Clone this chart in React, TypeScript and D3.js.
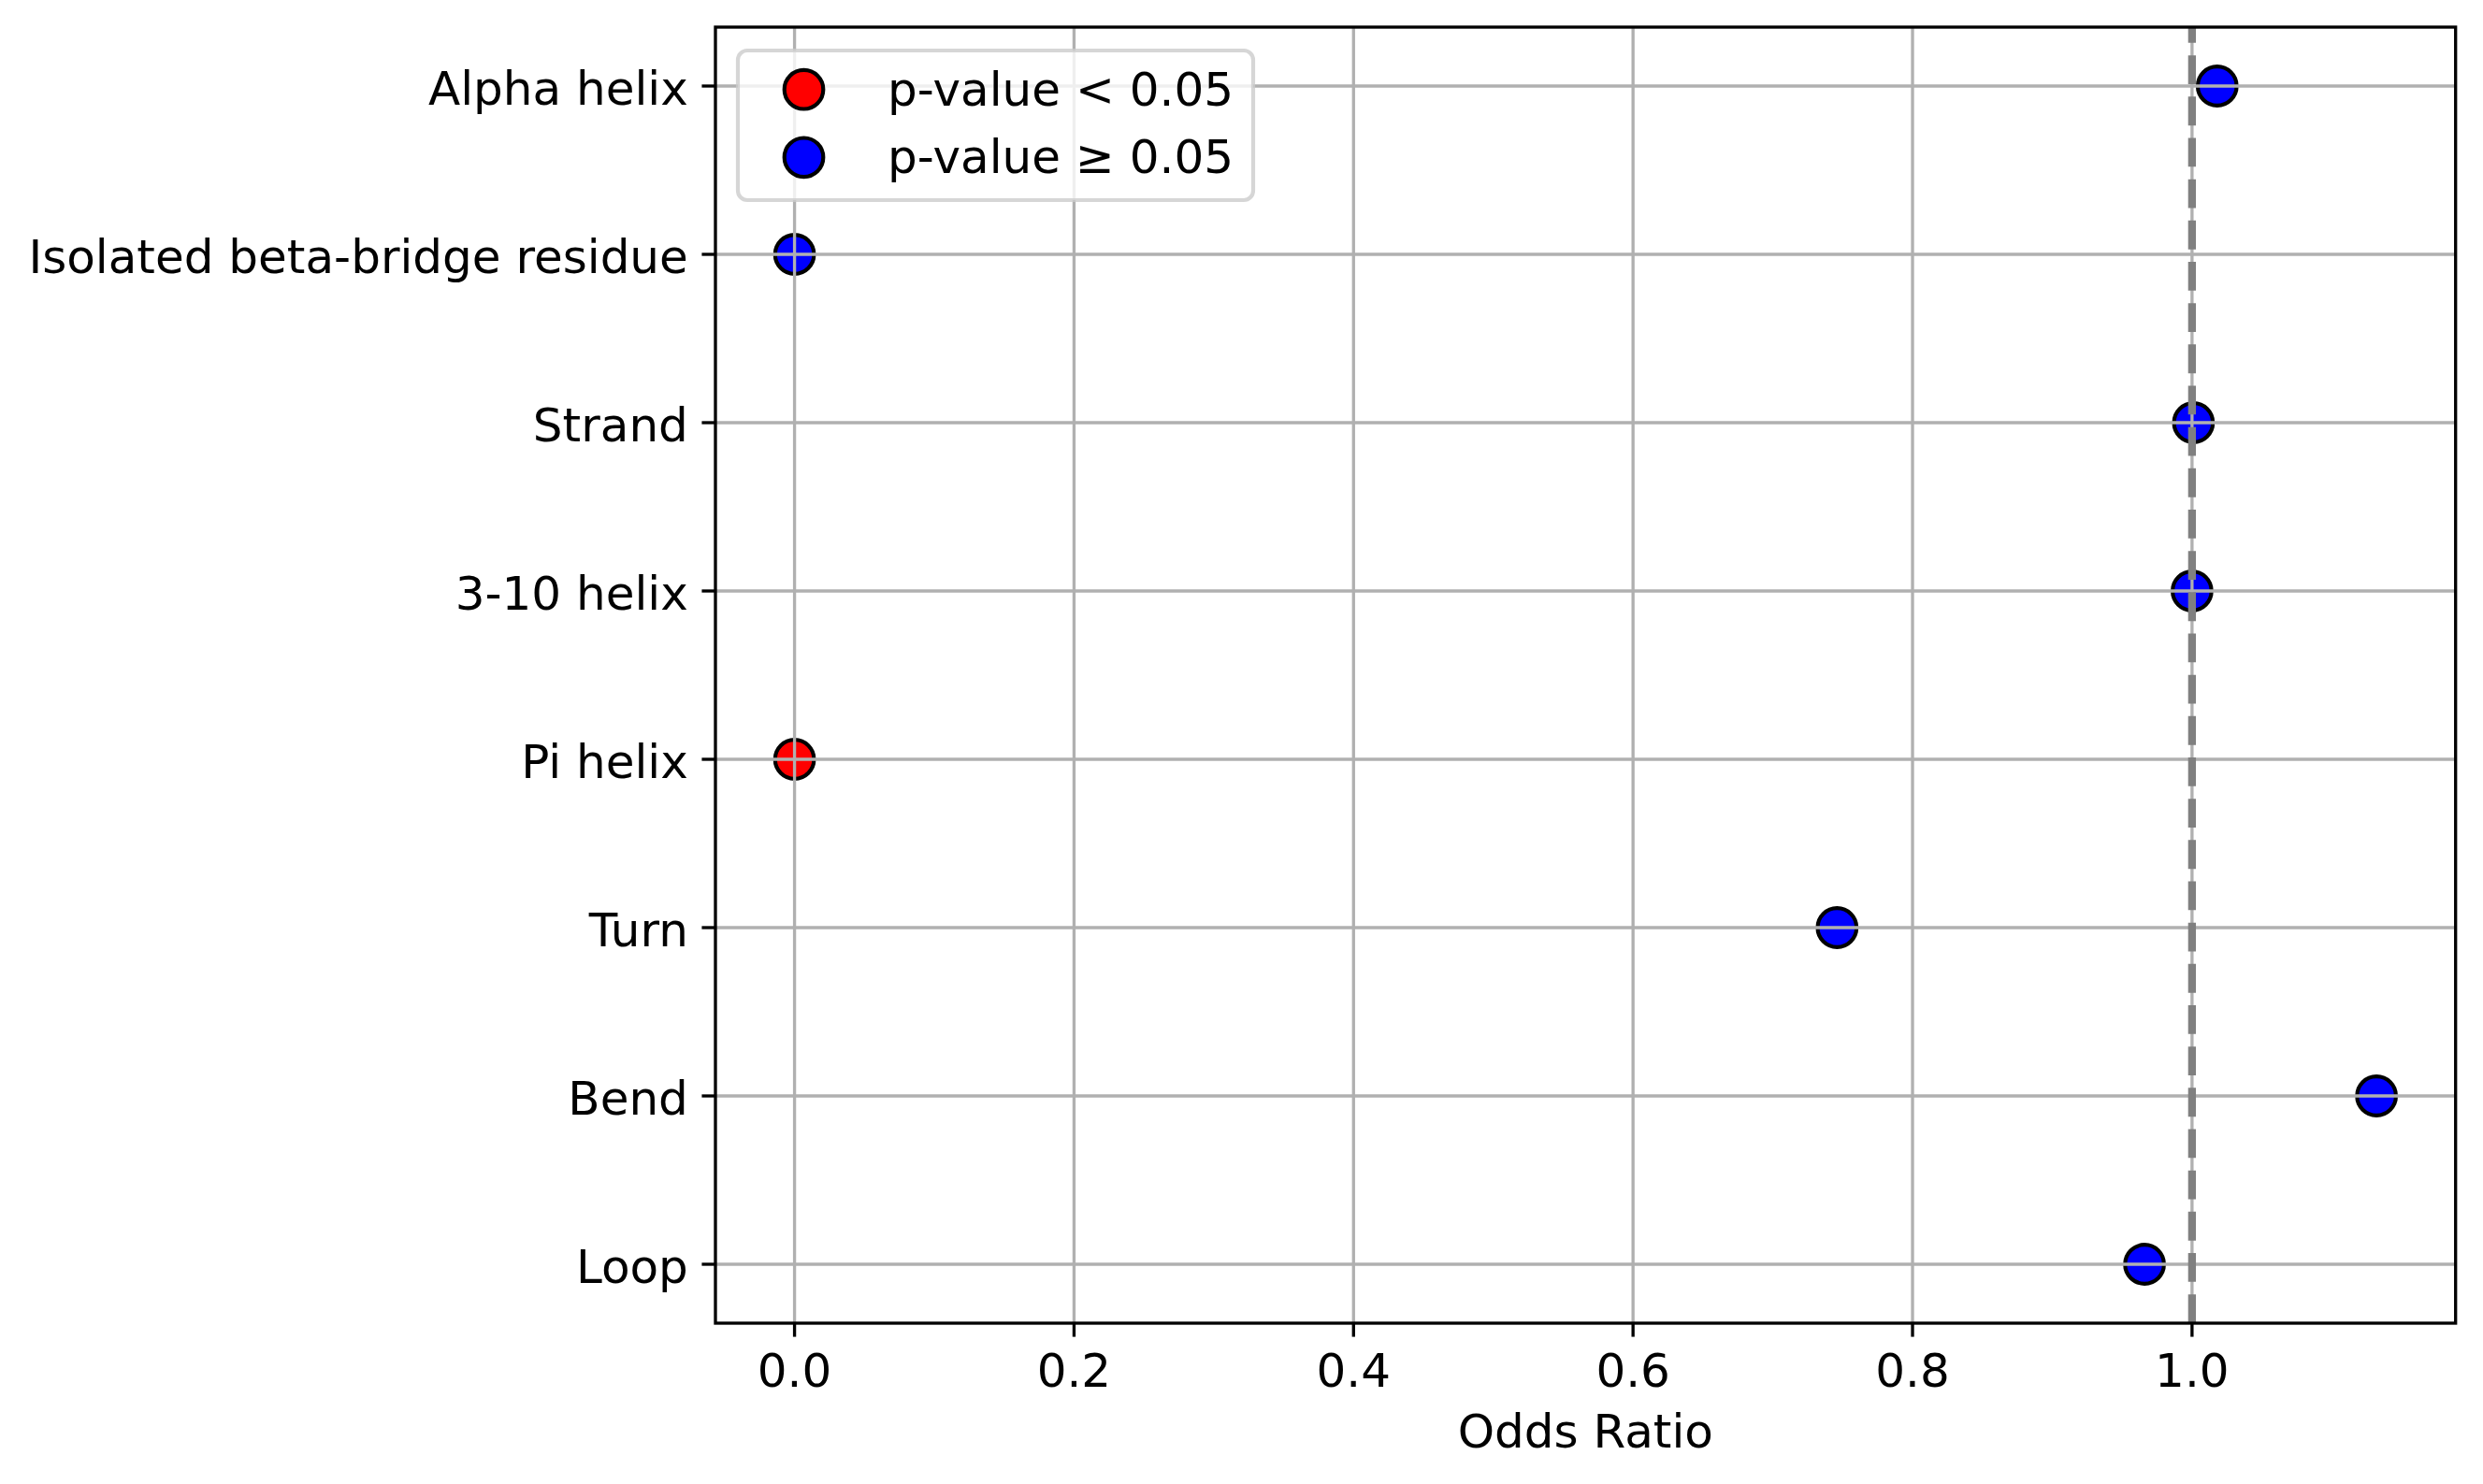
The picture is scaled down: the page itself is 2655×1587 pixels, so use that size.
import { useEffect, useRef } from "react";
import * as d3 from "d3";

// categories from top to bottom, as shown on the y axis
const categories = [
    "Alpha helix",
    "Isolated beta-bridge residue",
    "Strand",
    "3-10 helix",
    "Pi helix",
    "Turn",
    "Bend",
    "Loop",
];
const oddsRatios = [1.018, 0.0, 1.001, 1.0, 0.0, 0.746, 1.132, 0.966];
const significant = [false, false, false, false, true, false, false, false];
const xTicks = [0, 0.2, 0.4, 0.6, 0.8, 1.0];
const legendLabels = ["p-value < 0.05", "p-value \u2265 0.05"];
const legendColors = ["red", "blue"];
const referenceLine = 1.0;

const width = 2655;
const height = 1587;
const margin = { top: 29, right: 29.3, bottom: 172, left: 765 };
const font = "'DejaVu Sans', sans-serif";

const OddsRatioChart = () => {
    const svgRef = useRef<SVGSVGElement>(null);

    useEffect(() => {
        if (!svgRef.current) return;
        const svg = d3.select(svgRef.current);
        svg.selectAll("*").remove();

        const x0 = margin.left;
        const x1 = width - margin.right;
        const y0 = margin.top;
        const y1 = height - margin.bottom;
        const n = categories.length;

        // matplotlib style 5% margins around the data
        const [lo, hi] = d3.extent(oddsRatios) as [number, number];
        const pad = (hi - lo) * 0.05;
        const x = d3.scaleLinear().domain([lo - pad, hi + pad]).range([x0, x1]);
        const y = d3.scaleLinear().domain([-0.35, n - 1 + 0.35]).range([y1, y0]);
        const yPos = (i: number) => y(n - 1 - i);

        const lw = 300 / 72; // 1pt in px

        // points (below the grid, as in matplotlib)
        svg.append("g")
            .selectAll("circle")
            .data(categories)
            .join("circle")
            .attr("cx", (_, i) => x(oddsRatios[i]))
            .attr("cy", (_, i) => yPos(i))
            .attr("r", 20.8)
            .attr("fill", (_, i) => (significant[i] ? legendColors[0] : legendColors[1]))
            .attr("stroke", "black")
            .attr("stroke-width", lw);

        // grid
        const grid = svg.append("g").attr("stroke", "#b0b0b0").attr("stroke-width", 0.8 * lw);
        grid.selectAll("line.v")
            .data(xTicks)
            .join("line")
            .attr("class", "v")
            .attr("x1", d => x(d)).attr("x2", d => x(d))
            .attr("y1", y0).attr("y2", y1);
        grid.selectAll("line.h")
            .data(categories)
            .join("line")
            .attr("class", "h")
            .attr("x1", x0).attr("x2", x1)
            .attr("y1", (_, i) => yPos(i)).attr("y2", (_, i) => yPos(i));

        // reference line at OR = 1 (dash starts at bottom)
        svg.append("line")
            .attr("x1", x(referenceLine)).attr("x2", x(referenceLine))
            .attr("y1", y1).attr("y2", y0)
            .attr("stroke", "#808080")
            .attr("stroke-width", 2 * lw)
            .attr("stroke-dasharray", `${3.7 * 2 * lw} ${1.6 * 2 * lw}`);

        // spines
        svg.append("rect")
            .attr("x", x0).attr("y", y0)
            .attr("width", x1 - x0).attr("height", y1 - y0)
            .attr("fill", "none")
            .attr("stroke", "black")
            .attr("stroke-width", 0.8 * lw);

        const tickLen = 3.5 * lw;

        // x axis ticks + labels
        const xa = svg.append("g");
        xa.selectAll("line")
            .data(xTicks)
            .join("line")
            .attr("x1", d => x(d)).attr("x2", d => x(d))
            .attr("y1", y1).attr("y2", y1 + tickLen)
            .attr("stroke", "black").attr("stroke-width", 0.8 * lw);
        xa.selectAll("text")
            .data(xTicks)
            .join("text")
            .attr("x", d => x(d))
            .attr("y", y1 + 67.7)
            .attr("text-anchor", "middle")
            .attr("font-family", font)
            .attr("font-size", 50)
            .text(d => d3.format(".1f")(d));

        svg.append("text")
            .attr("x", (x0 + x1) / 2)
            .attr("y", 1548)
            .attr("text-anchor", "middle")
            .attr("font-family", font)
            .attr("font-size", 50)
            .text("Odds Ratio");

        // y axis ticks + labels
        const ya = svg.append("g");
        ya.selectAll("line")
            .data(categories)
            .join("line")
            .attr("x1", x0 - tickLen).attr("x2", x0)
            .attr("y1", (_, i) => yPos(i)).attr("y2", (_, i) => yPos(i))
            .attr("stroke", "black").attr("stroke-width", 0.8 * lw);
        ya.selectAll("text")
            .data(categories)
            .join("text")
            .attr("x", x0 - tickLen - 3.5 * lw)
            .attr("y", (_, i) => yPos(i) + 19.5)
            .attr("text-anchor", "end")
            .attr("font-family", font)
            .attr("font-size", 50)
            .text(d => d);

        // legend
        const lg = svg.append("g");
        lg.append("rect")
            .attr("x", 789).attr("y", 54)
            .attr("width", 551).attr("height", 160)
            .attr("rx", 10)
            .attr("fill", "white").attr("fill-opacity", 0.8)
            .attr("stroke", "#cccccc").attr("stroke-opacity", 0.8)
            .attr("stroke-width", lw);
        const rows = lg.selectAll("g")
            .data(legendLabels)
            .join("g")
            .attr("transform", (_, i) => `translate(0,${95.7 + i * 72.6})`);
        rows.append("circle")
            .attr("cx", 859.5).attr("cy", 0)
            .attr("r", 20.8)
            .attr("fill", (_, i) => legendColors[i])
            .attr("stroke", "black")
            .attr("stroke-width", lw);
        rows.append("text")
            .attr("x", 949)
            .attr("y", 17)
            .attr("font-family", font)
            .attr("font-size", 50)
            .text(d => d);
    }, []);

    return (
        <svg
            ref={svgRef}
            width={width}
            height={height}
            viewBox={`0 0 ${width} ${height}`}
            style={{ display: "block", background: "white" }}
        />
    );
};

export default function App() {
    return (
        <>
            <style>{"body{margin:0;background:white;}"}</style>
            <OddsRatioChart />
        </>
    );
}
